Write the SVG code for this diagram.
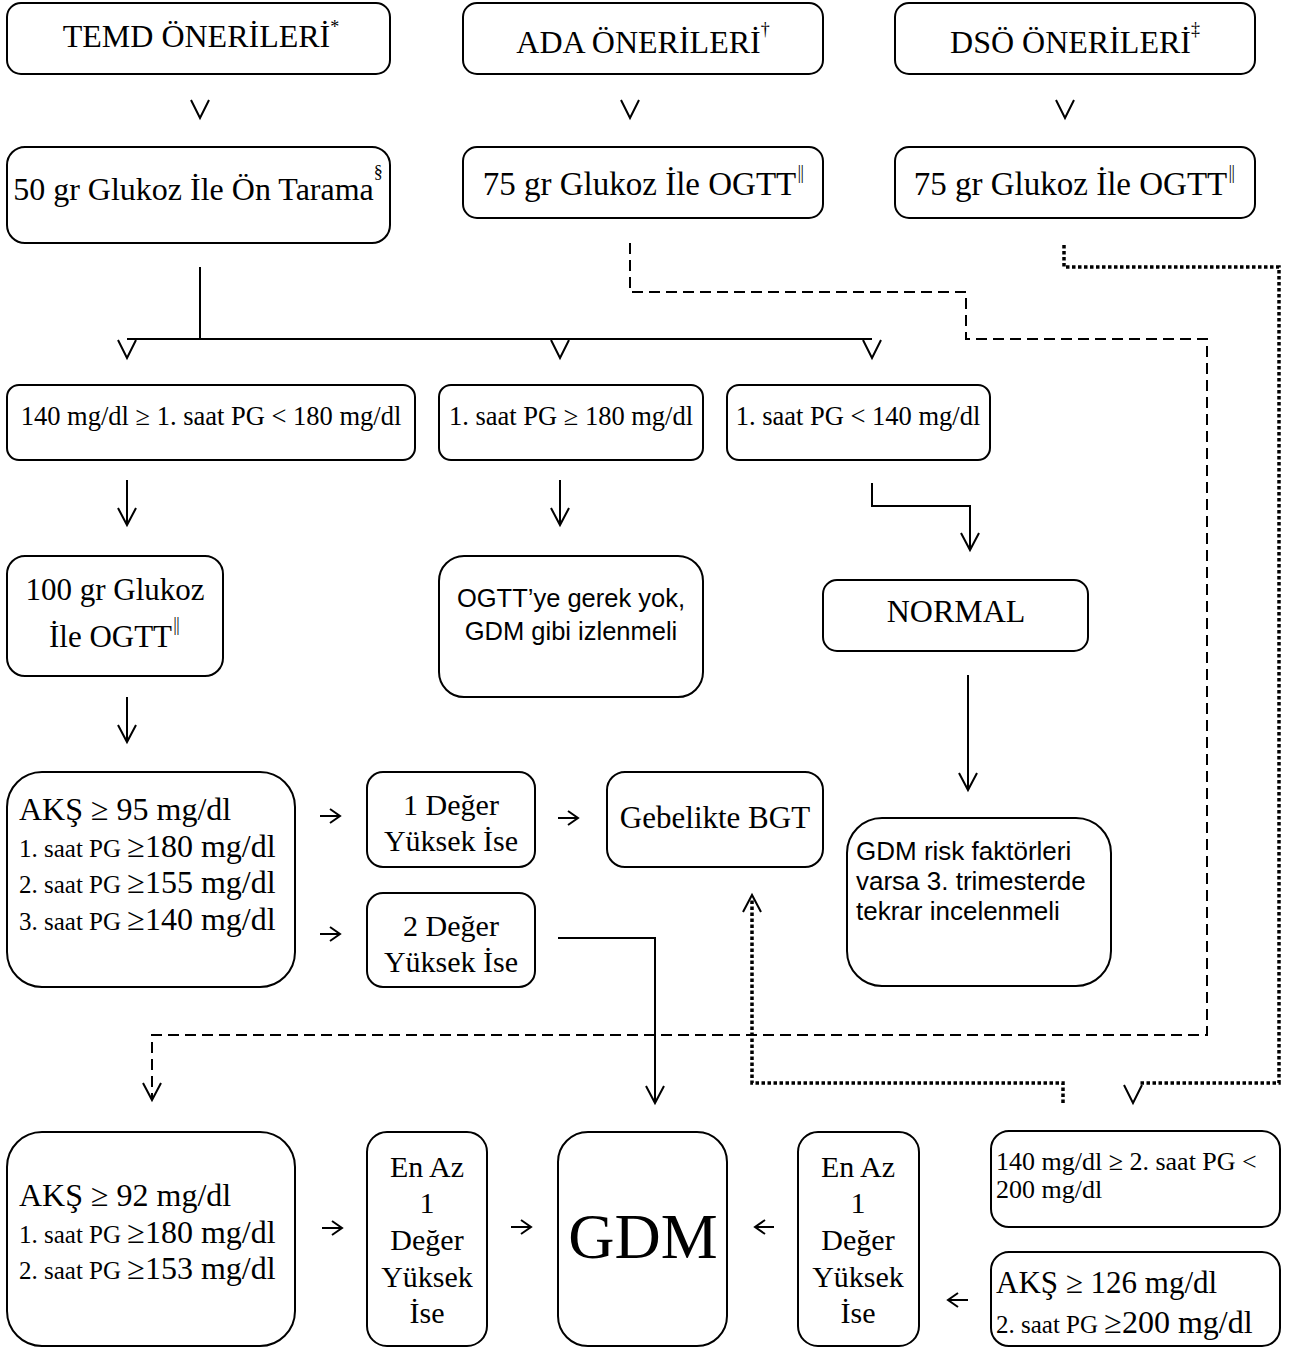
<svg xmlns="http://www.w3.org/2000/svg" width="1290" height="1349" viewBox="0 0 1290 1349">
<style>
.box{fill:#fff;stroke:#000;stroke-width:2}
.t{font-family:"Liberation Serif","Times New Roman",serif;fill:#000}
.s{font-family:"Liberation Sans",Arial,sans-serif;fill:#000}
.c{text-anchor:middle}
.dv{font-family:"DejaVu Sans","DejaVu Serif",sans-serif;font-weight:100}
.ln{fill:none;stroke:#000;stroke-width:2}
.dash{fill:none;stroke:#000;stroke-width:2;stroke-dasharray:11 6}
.dot{fill:none;stroke:#000;stroke-width:3.5;stroke-dasharray:3.5 2.5}
.head{fill:none;stroke:#000;stroke-width:2}
</style>
<defs>
<marker id="ah" viewBox="-20 -12 24 24" markerWidth="24" markerHeight="24" refX="0" refY="0" orient="auto" markerUnits="userSpaceOnUse">
<path d="M-17,-9 L0,0 L-17,9" fill="none" stroke="#000" stroke-width="2"/>
</marker>
<marker id="ahs" viewBox="-14 -10 16 20" markerWidth="16" markerHeight="20" refX="0" refY="0" orient="auto" markerUnits="userSpaceOnUse">
<path d="M-10,-7 L0,0 L-10,7" fill="none" stroke="#000" stroke-width="2"/>
</marker>
</defs>
<rect width="1290" height="1349" fill="#fff"/>

<g id="connectors">
<path class="head" d="M191,100 L200,118 L209,100"/>
<path class="head" d="M621,100 L630,118 L639,100"/>
<path class="head" d="M1056,100 L1065,118 L1074,100"/>
<path class="ln" d="M200,267 V339 M127,339 H872"/>
<path class="head" d="M118,340 L127,358 L136,340"/>
<path class="head" d="M551,340 L560,358 L569,340"/>
<path class="head" d="M863,340 L872,358 L881,340"/>
<path class="dash" d="M630,243 V292 H966 V339 H1207 V1035 H152 V1100" marker-end="url(#ah)"/>
<path class="dot" d="M1064,245 V267 H1279 V1083 H1140"/>
<path class="head" d="M1124,1085 L1133,1103 L1142,1085"/>
<path class="dot" d="M1063,1103 V1083 H752 V898"/>
<path class="head" d="M743,912 L752,895 L761,912"/>
<path class="ln" d="M127,480 V525" marker-end="url(#ah)"/>
<path class="ln" d="M560,480 V525" marker-end="url(#ah)"/>
<path class="ln" d="M872,483 V506 H970 V550" marker-end="url(#ah)"/>
<path class="ln" d="M127,697 V742" marker-end="url(#ah)"/>
<path class="ln" d="M968,675 V790" marker-end="url(#ah)"/>
<path class="ln" d="M558,938 H655 V1103" marker-end="url(#ah)"/>
<path class="ln" d="M320,816 H340" marker-end="url(#ahs)"/>
<path class="ln" d="M320,934 H340" marker-end="url(#ahs)"/>
<path class="ln" d="M558,818 H578" marker-end="url(#ahs)"/>
<path class="ln" d="M322,1228 H342" marker-end="url(#ahs)"/>
<path class="ln" d="M511,1227 H531" marker-end="url(#ahs)"/>
<path class="ln" d="M774,1227 H755" marker-end="url(#ahs)"/>
<path class="ln" d="M968,1300 H948" marker-end="url(#ahs)"/>
</g>

<g id="temd">
<rect class="box" x="7" y="3" width="383" height="71" rx="14"/>
<text class="t c" x="201" y="47" font-size="32">TEMD ÖNERİLERİ<tspan dy="-14" font-size="18">*</tspan></text>
</g>
<g id="ada">
<rect class="box" x="463" y="3" width="360" height="71" rx="14"/>
<text class="t c" x="643" y="53" font-size="32">ADA ÖNERİLERİ<tspan dy="-18" font-size="18">†</tspan></text>
</g>
<g id="dso">
<rect class="box" x="895" y="3" width="360" height="71" rx="14"/>
<text class="t c" x="1075" y="53" font-size="32">DSÖ ÖNERİLERİ<tspan dy="-18" font-size="18">‡</tspan></text>
</g>

<g id="tarama50">
<rect class="box" x="7" y="147" width="383" height="96" rx="18"/>
<text class="t c" x="198" y="200" font-size="32">50 gr Glukoz İle Ön Tarama<tspan dy="-22" font-size="18">§</tspan></text>
</g>
<g id="ogtt75ada">
<rect class="box" x="463" y="147" width="360" height="71" rx="14"/>
<text class="t c" x="644" y="195" font-size="33">75 gr Glukoz İle OGTT<tspan class="dv" dy="-16" font-size="18">‖</tspan></text>
</g>
<g id="ogtt75dso">
<rect class="box" x="895" y="147" width="360" height="71" rx="14"/>
<text class="t c" x="1075" y="195" font-size="33">75 gr Glukoz İle OGTT<tspan class="dv" dy="-16" font-size="18">‖</tspan></text>
</g>

<g id="pg140-180">
<rect class="box" x="7" y="385" width="408" height="75" rx="12"/>
<text class="t c" x="211" y="425" font-size="26.5">140 mg/dl ≥ 1. saat PG &lt; 180 mg/dl</text>
</g>
<g id="pg180">
<rect class="box" x="439" y="385" width="264" height="75" rx="12"/>
<text class="t c" x="571" y="425" font-size="26.5">1. saat PG ≥ 180 mg/dl</text>
</g>
<g id="pg140">
<rect class="box" x="727" y="385" width="263" height="75" rx="12"/>
<text class="t c" x="858" y="425" font-size="26.5">1. saat PG &lt; 140 mg/dl</text>
</g>

<g id="ogtt100">
<rect class="box" x="7" y="556" width="216" height="120" rx="18"/>
<text class="t c" x="115" y="600" font-size="31">100 gr Glukoz</text>
<text class="t c" x="115" y="647" font-size="31">İle OGTT<tspan class="dv" dy="-16" font-size="18">‖</tspan></text>
</g>
<g id="gerekyok">
<rect class="box" x="439" y="556" width="264" height="141" rx="25"/>
<text class="s c" x="571" y="607" font-size="25.5">OGTT’ye gerek yok,</text>
<text class="s c" x="571" y="640" font-size="25.5">GDM gibi izlenmeli</text>
</g>
<g id="normal">
<rect class="box" x="823" y="580" width="265" height="71" rx="14"/>
<text class="t c" x="956" y="622" font-size="32">NORMAL</text>
</g>

<g id="aks95">
<rect class="box" x="7" y="772" width="288" height="215" rx="35"/>
<text class="t" x="19" y="820" font-size="32">AKŞ ≥ 95 mg/dl</text>
<text class="t" x="19" y="857" font-size="32"><tspan font-size="25">1. saat PG </tspan>≥180 mg/dl</text>
<text class="t" x="19" y="893" font-size="32"><tspan font-size="25">2. saat PG </tspan>≥155 mg/dl</text>
<text class="t" x="19" y="930" font-size="32"><tspan font-size="25">3. saat PG </tspan>≥140 mg/dl</text>
</g>
<g id="deger1">
<rect class="box" x="367" y="772" width="168" height="95" rx="16"/>
<text class="t c" x="451" y="815" font-size="30">1 Değer</text>
<text class="t c" x="451" y="851" font-size="30">Yüksek İse</text>
</g>
<g id="deger2">
<rect class="box" x="367" y="893" width="168" height="94" rx="16"/>
<text class="t c" x="451" y="936" font-size="30">2 Değer</text>
<text class="t c" x="451" y="972" font-size="30">Yüksek İse</text>
</g>
<g id="bgt">
<rect class="box" x="607" y="772" width="216" height="95" rx="18"/>
<text class="t c" x="715" y="828" font-size="31">Gebelikte BGT</text>
</g>
<g id="risk">
<rect class="box" x="847" y="818" width="264" height="168" rx="35"/>
<text class="s" x="856" y="860" font-size="26">GDM risk faktörleri</text>
<text class="s" x="856" y="890" font-size="26">varsa 3. trimesterde</text>
<text class="s" x="856" y="920" font-size="26">tekrar incelenmeli</text>
</g>

<g id="aks92">
<rect class="box" x="7" y="1132" width="288" height="214" rx="35"/>
<text class="t" x="19" y="1206" font-size="32">AKŞ ≥ 92 mg/dl</text>
<text class="t" x="19" y="1243" font-size="32"><tspan font-size="25">1. saat PG </tspan>≥180 mg/dl</text>
<text class="t" x="19" y="1279" font-size="32"><tspan font-size="25">2. saat PG </tspan>≥153 mg/dl</text>
</g>
<g id="enaz1">
<rect class="box" x="367" y="1132" width="120" height="214" rx="20"/>
<text class="t c" x="427" y="1177" font-size="30">En Az</text>
<text class="t c" x="427" y="1213" font-size="30">1</text>
<text class="t c" x="427" y="1250" font-size="30">Değer</text>
<text class="t c" x="427" y="1287" font-size="30">Yüksek</text>
<text class="t c" x="427" y="1323" font-size="30">İse</text>
</g>
<g id="gdm">
<rect class="box" x="558" y="1132" width="169" height="214" rx="30"/>
<text class="t c" x="643" y="1258" font-size="64">GDM</text>
</g>
<g id="enaz2">
<rect class="box" x="798" y="1132" width="121" height="214" rx="20"/>
<text class="t c" x="858" y="1177" font-size="30">En Az</text>
<text class="t c" x="858" y="1213" font-size="30">1</text>
<text class="t c" x="858" y="1250" font-size="30">Değer</text>
<text class="t c" x="858" y="1287" font-size="30">Yüksek</text>
<text class="t c" x="858" y="1323" font-size="30">İse</text>
</g>
<g id="pg2h">
<rect class="box" x="991" y="1131" width="289" height="96" rx="18"/>
<text class="t" x="996" y="1170" font-size="26">140 mg/dl ≥ 2. saat PG &lt;</text>
<text class="t" x="996" y="1198" font-size="26">200 mg/dl</text>
</g>
<g id="aks126">
<rect class="box" x="991" y="1252" width="289" height="94" rx="18"/>
<text class="t" x="996" y="1293" font-size="31">AKŞ ≥ 126 mg/dl</text>
<text class="t" x="996" y="1333" font-size="32"><tspan font-size="25">2. saat PG </tspan>≥200 mg/dl</text>
</g>
</svg>
